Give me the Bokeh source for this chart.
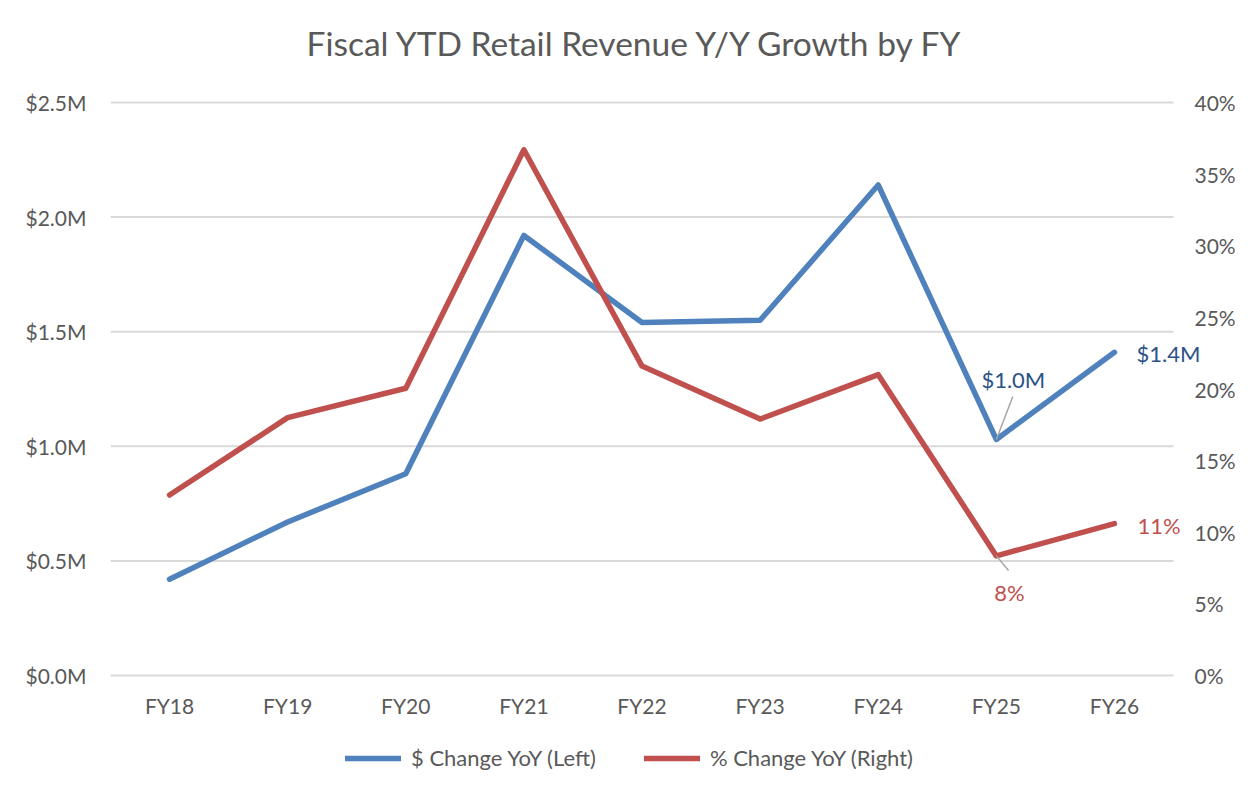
import math
from bokeh.plotting import figure
from bokeh.models import (Range1d, FixedTicker, PrintfTickFormatter, Legend, LegendItem)
from bokeh.core.properties import value
from bokeh.embed import file_html
from bokeh.resources import INLINE

# ---- data ----
fiscal_years = ["FY18", "FY19", "FY20", "FY21", "FY22", "FY23", "FY24", "FY25", "FY26"]
dollar_change_m = [0.42, 0.67, 0.88, 1.92, 1.54, 1.55, 2.14, 1.03, 1.41]   # $M, left axis
pct_change = [0.126, 0.180, 0.2005, 0.367, 0.216, 0.179, 0.210, 0.0835, 0.106]  # right axis
left_ticks = [0.0, 0.5, 1.0, 1.5, 2.0, 2.5]
right_ticks = [0.0, 0.05, 0.10, 0.15, 0.20, 0.25, 0.30, 0.35, 0.40]

title_text = "Fiscal YTD Retail Revenue Y/Y Growth by FY"
legend_dollar = "$ Change YoY (Left)"
legend_pct = "% Change YoY (Right)"

BLUE = "#4F81BD"
RED = "#C0504D"
BLUE_LABEL = "#2B5287"
GREY_TEXT = "#595959"
GRID = "#D9D9D9"
FONT = "Lato"

# ---- layout (pixels) ----
W, H = 1236, 777
PLOT_LEFT, PLOT_RIGHT = 110, 1173      # extent of the plotting area (gridlines)
PLOT_TOP, PLOT_BOTTOM = 102, 675
FRAME_TOP = 80
LEFT_MAX, RIGHT_MAX = 2.5, 0.40

n = len(fiscal_years)
xs = list(range(n))
px_per_cat = (PLOT_RIGHT - PLOT_LEFT) / n
x_start = -0.5
x_end = x_start + (W - PLOT_LEFT) / px_per_cat
px_per_unit = (PLOT_BOTTOM - PLOT_TOP) / LEFT_MAX
y_start = -(H - PLOT_BOTTOM) / px_per_unit
y_end = LEFT_MAX + (PLOT_TOP - FRAME_TOP) / px_per_unit
k = RIGHT_MAX / LEFT_MAX

p = figure(width=W, height=H, x_range=Range1d(x_start, x_end),
           y_range=Range1d(y_start, y_end),
           output_backend="svg", toolbar_location=None,
           min_border_left=PLOT_LEFT, min_border_right=0,
           min_border_top=FRAME_TOP, min_border_bottom=0,
           x_axis_location=None)
p.extra_y_ranges = {"pct": Range1d(y_start * k, y_end * k)}

p.title.text = title_text
p.title.align = "left"
p.title.offset = 196
p.title.text_font = FONT
p.title.text_font_size = "33.5px"
p.title.text_font_style = "normal"
p.title.text_color = GREY_TEXT
p.title.standoff = 36

p.outline_line_color = None
p.xgrid.grid_line_color = None
p.ygrid.grid_line_color = None

# gridlines across the category extent only
p.segment(x0=[x_start] * len(left_ticks), x1=[x_start + n] * len(left_ticks),
          y0=left_ticks, y1=left_ticks, line_color=GRID, line_width=2)

# left axis
ya = p.yaxis[0]
ya.ticker = FixedTicker(ticks=left_ticks)
ya.formatter = PrintfTickFormatter(format="$%.1fM")
ya.axis_line_color = None
ya.major_tick_line_color = None
ya.minor_tick_line_color = None
ya.major_tick_out = 0
ya.major_tick_in = 0
ya.major_label_standoff = 24
ya.major_label_text_font = FONT
ya.major_label_text_font_size = "21px"
ya.major_label_text_color = GREY_TEXT

# right axis labels
p.text(x=[x_start + n] * len(right_ticks), y=right_ticks,
       text=["%d%%" % int(t * 100 + 0.5) for t in right_ticks],
       x_offset=21, text_align="left", text_baseline="middle",
       text_font=value(FONT), text_font_size="21px", text_color=GREY_TEXT,
       y_range_name="pct")

# category labels
p.text(x=xs, y=[0] * n, text=fiscal_years, y_offset=30,
       text_align="center", text_baseline="middle",
       text_font=value(FONT), text_font_size="21px", text_color=GREY_TEXT)

r_d = p.line(xs, dollar_change_m, line_color=BLUE, line_width=5.5,
             line_join="round", line_cap="round")
r_p = p.line(xs, pct_change, line_color=RED, line_width=5.5,
             line_join="round", line_cap="round", y_range_name="pct")

# leader lines for the two offset labels
p.ray(x=[xs[7]], y=[dollar_change_m[7]], length=46, length_units="screen",
      angle=math.radians(69), line_color="#A6A6A6", line_width=1.5)
p.ray(x=[xs[7]], y=[pct_change[7]], length=19, length_units="screen",
      angle=math.radians(-50), line_color="#A6A6A6", line_width=1.5, y_range_name="pct")

# data labels
def fmt_d(v):
    return "$%.1fM" % v

def fmt_p(v):
    return "%d%%" % int(v * 100 + 0.5)

p.text(x=[xs[7]], y=[dollar_change_m[7]], text=[fmt_d(dollar_change_m[7])],
       x_offset=17, y_offset=-60, text_align="center", text_baseline="middle",
       text_font=value(FONT), text_font_size="22px", text_color=BLUE_LABEL)
p.text(x=[xs[8]], y=[dollar_change_m[8]], text=[fmt_d(dollar_change_m[8])],
       x_offset=22, y_offset=1, text_align="left", text_baseline="middle",
       text_font=value(FONT), text_font_size="22px", text_color=BLUE_LABEL)
p.text(x=[xs[7]], y=[pct_change[7]], text=[fmt_p(pct_change[7])],
       x_offset=13, y_offset=37, text_align="center", text_baseline="middle",
       text_font=value(FONT), text_font_size="22px", text_color=RED, y_range_name="pct")
p.text(x=[xs[8]], y=[pct_change[8]], text=[fmt_p(pct_change[8])],
       x_offset=23, y_offset=2, text_align="left", text_baseline="middle",
       text_font=value(FONT), text_font_size="22px", text_color=RED, y_range_name="pct")

legend = Legend(items=[LegendItem(label=legend_dollar, renderers=[r_d]),
                       LegendItem(label=legend_pct, renderers=[r_p])],
                orientation="horizontal", location=(235, 6),
                glyph_width=56, glyph_height=20, label_standoff=10, spacing=48,
                label_text_font=FONT, label_text_font_size="22px",
                label_text_color=GREY_TEXT, border_line_color=None,
                background_fill_alpha=0, margin=0, padding=0)
p.add_layout(legend, "center")

open("out.html", "w").write(file_html(p, INLINE))
